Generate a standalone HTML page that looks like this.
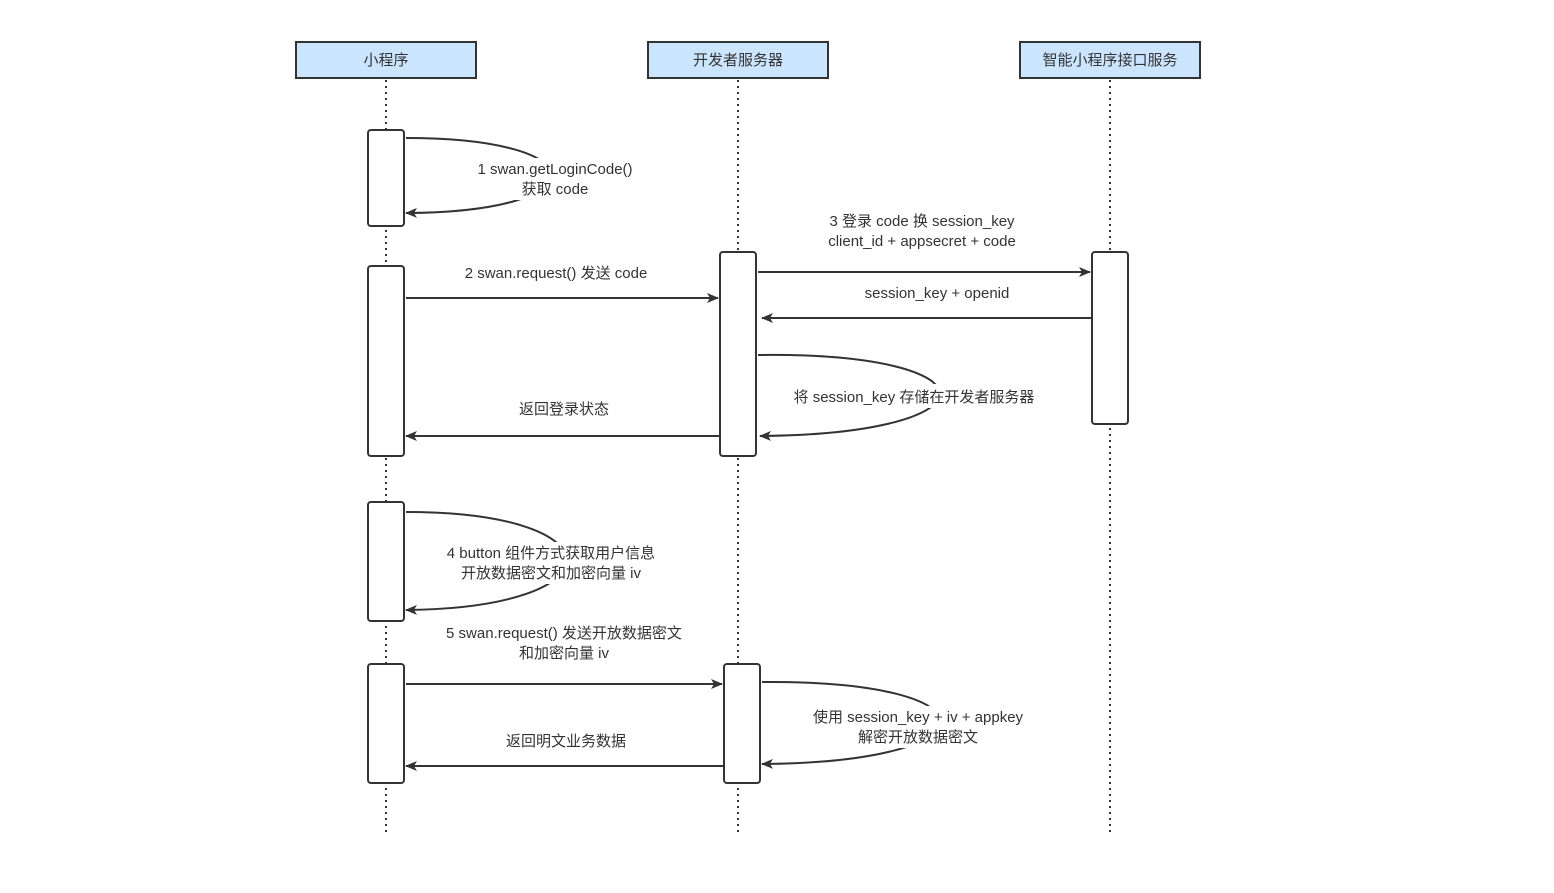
<!DOCTYPE html>
<html><head><meta charset="utf-8"><style>
html,body{margin:0;padding:0;background:#fff}
svg text{font-family:"Liberation Sans","Noto Sans CJK SC",sans-serif;font-size:15px;fill:#333}
</style></head><body>
<svg width="1554" height="888" viewBox="0 0 1554 888" xmlns="http://www.w3.org/2000/svg">
<defs><marker id="a" markerWidth="12" markerHeight="10" refX="11" refY="5" orient="auto" markerUnits="userSpaceOnUse"><path d="M0,0 L12,5 L0,10 L3,5 z" fill="#333"/></marker></defs>
<g stroke="#333" stroke-width="2" stroke-dasharray="2,4">
<line x1="386" y1="80" x2="386" y2="836"/><line x1="738" y1="80" x2="738" y2="836"/><line x1="1110" y1="80" x2="1110" y2="836"/>
</g>
<g fill="#cce5ff" stroke="#333" stroke-width="2">
<rect x="296" y="42" width="180" height="36"/><rect x="648" y="42" width="180" height="36"/><rect x="1020" y="42" width="180" height="36"/>
</g>
<g text-anchor="middle"><text x="386" y="65">小程序</text><text x="738" y="65">开发者服务器</text><text x="1110" y="65">智能小程序接口服务</text></g>
<g fill="#fff" stroke="#333" stroke-width="2">
<rect x="368" y="130" width="36" height="96" rx="3"/><rect x="368" y="266" width="36" height="190" rx="3"/>
<rect x="368" y="502" width="36" height="119" rx="3"/><rect x="368" y="664" width="36" height="119" rx="3"/>
<rect x="720" y="252" width="36" height="204" rx="3"/><rect x="724" y="664" width="36" height="119" rx="3"/>
<rect x="1092" y="252" width="36" height="172" rx="3"/>
</g>
<g stroke="#333" stroke-width="2" fill="none" marker-end="url(#a)">
<path d="M406,138 C600,138 600,212 406,213"/>
<line x1="406" y1="298" x2="718" y2="298"/>
<line x1="758" y1="272" x2="1090" y2="272"/>
<line x1="1091" y1="318" x2="762" y2="318"/>
<path d="M758,355 C1000,352 1000,434 760,436"/>
<line x1="719" y1="436" x2="406" y2="436"/>
<path d="M406,512 C620,512 620,608 406,610"/>
<line x1="406" y1="684" x2="722" y2="684"/>
<path d="M762,682 C1000,680 1000,762 762,764"/>
<line x1="723" y1="766" x2="406" y2="766"/>
</g>
<g fill="#fff">
<rect x="468" y="158" width="174" height="42"/><rect x="786" y="384" width="258" height="24"/>
<rect x="436" y="542" width="230" height="42"/><rect x="800" y="706" width="236" height="42"/>
</g>
<g text-anchor="middle">
<text x="555" y="174">1 swan.getLoginCode()</text><text x="555" y="194">获取 code</text>
<text x="556" y="278">2 swan.request() 发送 code</text>
<text x="922" y="226">3 登录 code 换 session_key</text><text x="922" y="246">client_id + appsecret + code</text>
<text x="937" y="298">session_key + openid</text>
<text x="914" y="402">将 session_key 存储在开发者服务器</text>
<text x="564" y="414">返回登录状态</text>
<text x="551" y="558">4 button 组件方式获取用户信息</text><text x="551" y="578">开放数据密文和加密向量 iv</text>
<text x="564" y="638">5 swan.request() 发送开放数据密文</text><text x="564" y="658">和加密向量 iv</text>
<text x="918" y="722">使用 session_key + iv + appkey</text><text x="918" y="742">解密开放数据密文</text>
<text x="566" y="746">返回明文业务数据</text>
</g>
</svg>
</body></html>
